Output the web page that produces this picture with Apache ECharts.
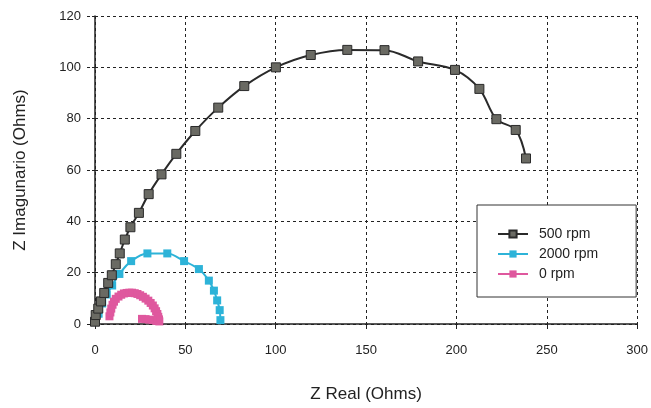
<!DOCTYPE html>
<html>
<head>
<meta charset="utf-8">
<script src="https://cdn.jsdelivr.net/npm/echarts@6/dist/echarts.min.js"></script>
<style>
html,body{margin:0;padding:0;background:#fff;}
#chart{width:651px;height:408px;}
</style>
</head>
<body>
<div id="chart"></div>
<script>
// Series names
var seriesNames = ['500 rpm', '2000 rpm', '0 rpm'];

// 500 rpm: [Z Real, Z Imaginario]
var rpm500 = [
  [0,0.9],[0.4,3.5],[1.8,6],[3.3,8.8],[5.1,12.1],[7.3,16],[9.3,19],[11.5,23.3],
  [13.7,27.5],[16.5,32.9],[19.6,37.7],[24.3,43.3],[29.7,50.6],[36.8,58.3],[45,66.3],
  [55.5,75.2],[68.2,84.3],[82.6,92.7],[100.1,100],[119.4,104.8],[139.6,106.8],
  [160.2,106.7],[178.8,102.3],[199.2,99],[212.7,91.6],[222.1,79.8],[232.8,75.6],[238.5,64.5]
];

// 2000 rpm
var rpm2000 = [
  [0.5,1],[2,4],[4,8],[6.5,11.5],[9.5,15],[13.5,19.5],[20,24.5],[29,27.5],[40,27.5],
  [49.3,24.5],[57.5,21.4],[63,16.9],[65.8,13],[67.6,9.2],[69,5.4],[69.4,1.5]
];

// 0 rpm
var rpm0 = [
  [8,3],[8.5,4.5],[9,6],[9.7,7.5],[10.5,8.7],[11.5,9.8],[13,10.7],[14.5,11.4],[16,11.9],
  [17.5,12.1],[19,12.2],[20.5,12.2],[22,12],[23.5,11.7],[25,11.2],[26.5,10.6],[28,9.9],
  [29.5,9.1],[30.8,8.2],[32,7.2],[33,6.1],[33.8,5],[34.5,3.9],[35,2.8],[35.4,1.8],
  [35.6,1],[34,1.2],[32,1.5],[30,1.7],[28,1.9],[26,2]
];

// Axis ticks
var xTicks = [0,50,100,150,200,250,300];
var yTicks = [0,20,40,60,80,100,120];

var font = 'Liberation Sans, Arial, sans-serif';
var chart = echarts.init(document.getElementById('chart'), null, {renderer:'canvas'});

chart.setOption({
  animation: false,
  backgroundColor: '#ffffff',
  grid: {left: 95, right: 10, top: 16, bottom: 79, containLabel: false},
  xAxis: {
    type: 'value', min: xTicks[0], max: xTicks[xTicks.length-1], interval: 50,
    name: 'Z Real (Ohms)', nameLocation: 'middle', nameGap: 62,
    nameTextStyle: {fontFamily: font, fontSize: 17, color: '#222'},
    axisLine: {show: true, onZero: false, lineStyle: {color: '#222', width: 1.5}},
    axisTick: {show: true, inside: false, length: 5, lineStyle: {color: '#222'}},
    axisLabel: {fontFamily: font, fontSize: 13, color: '#222', margin: 20},
    splitLine: {show: true, lineStyle: {color: '#222', type: [3,3], width: 1}}
  },
  yAxis: {
    type: 'value', min: yTicks[0], max: yTicks[yTicks.length-1], interval: 20,
    name: 'Z Imagunario (Ohms)', nameLocation: 'middle', nameGap: 66, nameRotate: 90,
    nameTextStyle: {fontFamily: font, fontSize: 17, color: '#222'},
    axisLine: {show: true, onZero: false, lineStyle: {color: '#222', width: 1.5}},
    axisTick: {show: true, inside: false, length: 8, lineStyle: {color: '#222', type: [3,2]}},
    axisLabel: {fontFamily: font, fontSize: 13, color: '#222', margin: 14},
    splitLine: {show: true, lineStyle: {color: '#222', type: [3,3], width: 1}}
  },
  legend: {
    orient: 'vertical', left: 477, top: 205,
    backgroundColor: '#fff', borderColor: '#333', borderWidth: 1,
    padding: [22, 38, 16, 20], itemGap: 6, itemWidth: 30, itemHeight: 9,
    textStyle: {fontFamily: font, fontSize: 14, color: '#222', padding: [0,0,0,6]},
    data: seriesNames
  },
  series: [
    {
      name: seriesNames[1], type: 'line', data: rpm2000, smooth: 0.35, z: 2,
      symbol: 'rect', symbolSize: 8,
      itemStyle: {color: '#2db3d8'},
      lineStyle: {color: '#2db3d8', width: 2}
    },
    {
      name: seriesNames[2], type: 'line', data: rpm0, smooth: 0.35, z: 3,
      symbol: 'rect', symbolSize: 8,
      itemStyle: {color: '#df589e'},
      lineStyle: {color: '#df589e', width: 2}
    },
    {
      name: seriesNames[0], type: 'line', data: rpm500, smooth: 0.35, z: 4,
      symbol: 'rect', symbolSize: 9,
      itemStyle: {color: '#6a6a63', borderColor: '#2a2a2a', borderWidth: 1},
      lineStyle: {color: '#2a2a2a', width: 2}
    }
  ]
});
</script>
</body>
</html>
